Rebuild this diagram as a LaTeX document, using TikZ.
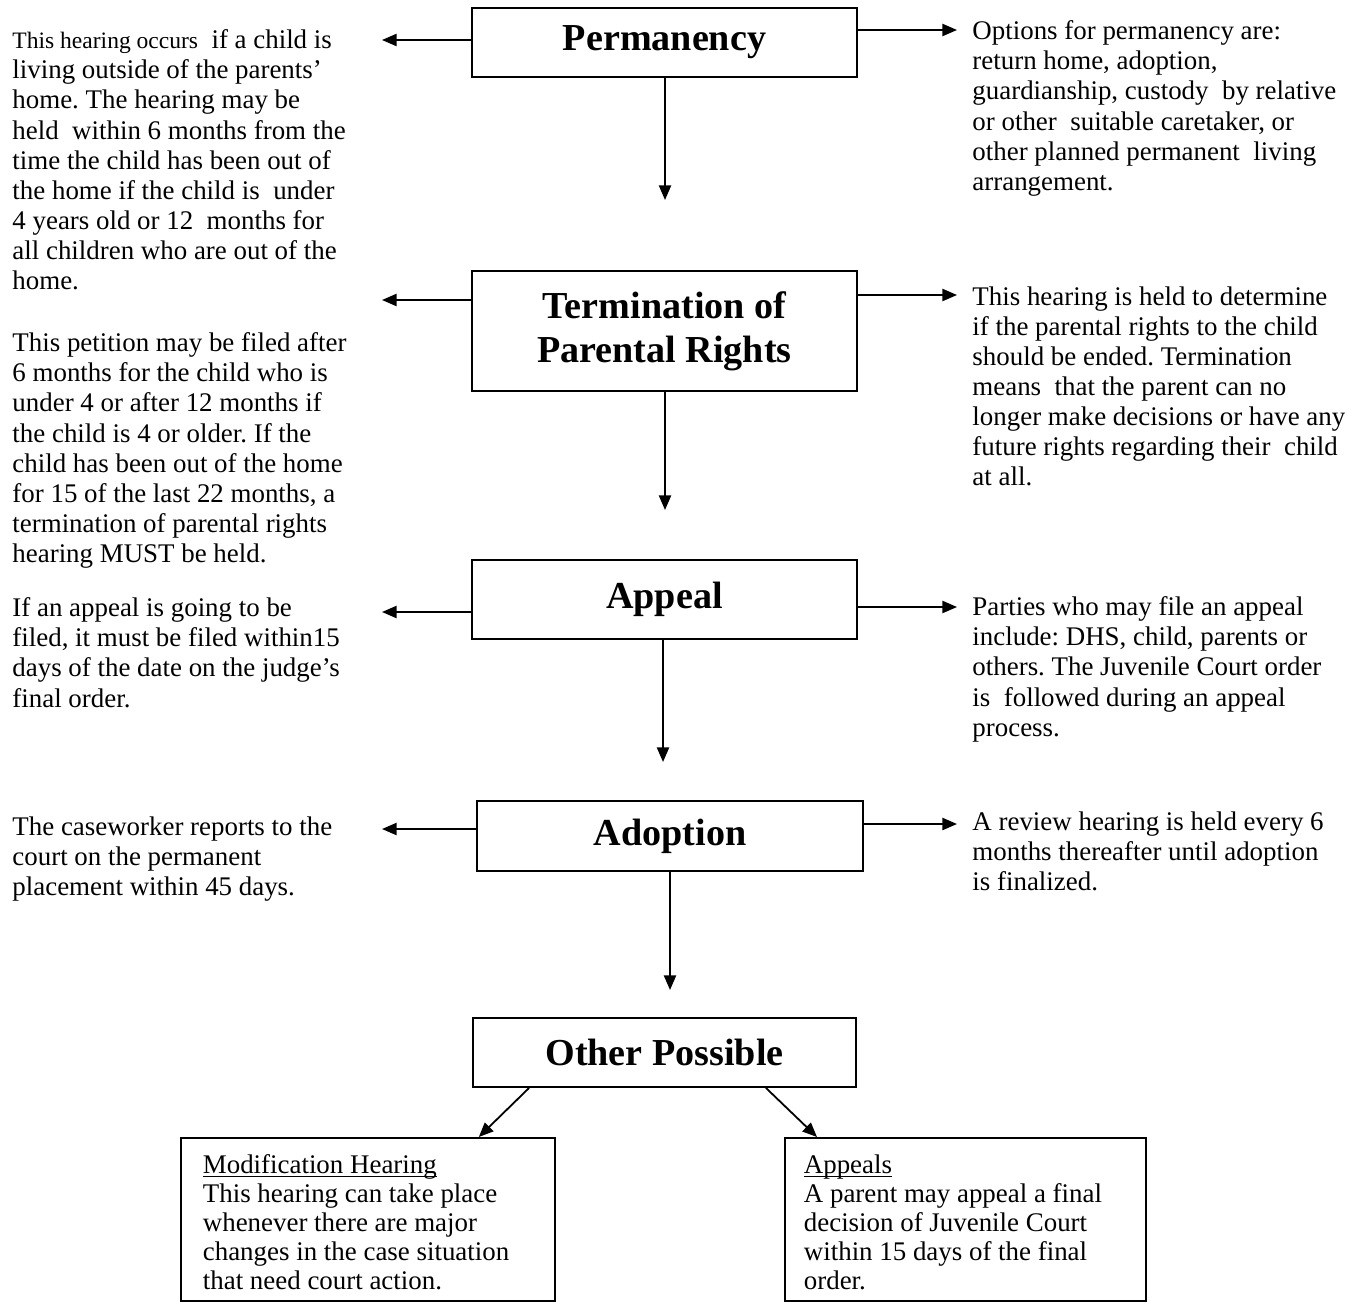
\documentclass[tikz,border=0pt]{standalone}
\usepackage{fontspec}
\setmainfont{Liberation Serif}
\usetikzlibrary{arrows.meta,positioning}
\frenchspacing
\hyphenpenalty=10000
\newcommand{\uword}[1]{\setbox0\hbox{#1}\rlap{\rule[-1.8pt]{\wd0}{0.6pt}}\box0}

\begin{document}
\begin{tikzpicture}[x=0.446pt,y=-0.446pt,
    box/.style={draw, line width=0.8pt, inner sep=0pt, align=center,
      font=\fontsize{17}{19.5}\selectfont\bfseries},
    note/.style={anchor=north west, inner sep=0pt, align=left,
      font=\fontsize{12}{13.4}\selectfont},
    subbox/.style={draw, line width=0.8pt, anchor=north west, align=flush left,
      inner ysep=0pt, minimum height=163*0.446pt,
      font=\fontsize{12}{13}\selectfont},
    arr/.style={line width=0.8pt, -{Triangle[length=6.5pt,width=5.4pt]}}]
  \useasboundingbox (0,0) rectangle (1358,1304);

  % main boxes
  \node[box, minimum width=385*0.446pt, minimum height=69*0.446pt] (perm) at (664.5,42.5) {Permanency};
  \node[box, minimum width=385*0.446pt, minimum height=120*0.446pt] (term) at (664.5,331) {Termination of\\Parental Rights};
  \node[box, minimum width=385*0.446pt, minimum height=79*0.446pt] (appeal) at (664.5,599.5) {Appeal};
  \node[box, minimum width=386*0.446pt, minimum height=70*0.446pt] (adopt) at (670,836) {Adoption};
  \node[box, minimum width=383*0.446pt, minimum height=69*0.446pt] (other) at (664.5,1052.5) {Other Possible};

  % notes on the left
  \node[note] (permL) at (12,29.5) {{\fontsize{10.5}{13.4}\selectfont This hearing occurs}\ \ if a child is\\
    living outside of the parents’\\
    home. The hearing may be\\
    held\ \ within 6 months from the\\
    time the child has been out of\\
    the home if the child is\ \ under\\
    4 years old or 12\ \ months for\\
    all children who are out of the\\
    home.};
  \node[note] (termL) at (12,332.5) {This petition may be filed after\\
    6 months for the child who is\\
    under 4 or after 12 months if\\
    the child is 4 or older. If the\\
    child has been out of the home\\
    for 15 of the last 22 months, a\\
    termination of parental rights\\
    hearing MUST be held.};
  \node[note] (appealL) at (12,597.5) {If an appeal is going to be\\
    filed, it must be filed within15\\
    days of the date on the judge’s\\
    final order.};
  \node[note] (adoptL) at (12,816.5) {The caseworker reports to the\\
    court on the permanent\\
    placement within 45 days.};

  % notes on the right
  \node[note] (permR) at (972,20.5) {Options for permanency are:\\
    return home, adoption,\\
    guardianship, custody\ \ by relative\\
    or other\ \ suitable caretaker, or\\
    other planned permanent\ \ living\\
    arrangement.};
  \node[note] (termR) at (972,286.5) {This hearing is held to determine\\
    if the parental rights to the child\\
    should be ended. Termination\\
    means\ \ that the parent can no\\
    longer make decisions or have any\\
    future rights regarding their\ \ child\\
    at all.};
  \node[note] (appealR) at (972,596.5) {Parties who may file an appeal\\
    include: DHS, child, parents or\\
    others. The Juvenile Court order\\
    is\ \ followed during an appeal\\
    process.};
  \node[note] (adoptR) at (972,811.5) {A review hearing is held every 6\\
    months thereafter until adoption\\
    is finalized.};

  % bottom boxes
  \node[subbox, inner xsep=22*0.446pt, text width=330*0.446pt] (modif) at (180,1137) {\rule{0pt}{11pt}\uword{Modification Hearing}\\
    This hearing can take place\\
    whenever there are major\\
    changes in the case situation\\
    that need court action.};
  \node[subbox, inner xsep=19*0.446pt, text width=323*0.446pt] (appeals) at (784,1137) {\rule{0pt}{11pt}\uword{Appeals}\\
    A parent may appeal a final\\
    decision of Juvenile Court\\
    within 15 days of the final\\
    order.};

  % arrow ends
  \coordinate (permLe) at (382,40);
  \coordinate (permRe) at (957,30);
  \coordinate (permD) at (665,200);
  \coordinate (termLe) at (382,300);
  \coordinate (termRe) at (957,295);
  \coordinate (termD) at (665,510);
  \coordinate (appealLe) at (382,612);
  \coordinate (appealRe) at (957,607);
  \coordinate (appealD) at (663,762);
  \coordinate (adoptLe) at (382,829);
  \coordinate (adoptRe) at (957,824);
  \coordinate (adoptD) at (670,990);

  \draw[arr] (perm.west |- permLe) -- (permLe);
  \draw[arr] (perm.east |- permRe) -- (permRe);
  \draw[arr] (perm.south -| permD) -- (permD);
  \draw[arr] (term.west |- termLe) -- (termLe);
  \draw[arr] (term.east |- termRe) -- (termRe);
  \draw[arr] (term.south -| termD) -- (termD);
  \draw[arr] (appeal.west |- appealLe) -- (appealLe);
  \draw[arr] (appeal.east |- appealRe) -- (appealRe);
  \draw[arr] (appeal.south -| appealD) -- (appealD);
  \draw[arr] (adopt.west |- adoptLe) -- (adoptLe);
  \draw[arr] (adopt.east |- adoptRe) -- (adoptRe);
  \draw[arr] (adopt.south -| adoptD) -- (adoptD);
  \draw[arr] ([xshift=57*0.446pt]other.south west) -- ([xshift=-77*0.446pt]modif.north east);
  \draw[arr] ([xshift=-91*0.446pt]other.south east) -- ([xshift=33*0.446pt]appeals.north west);
\end{tikzpicture}
\end{document}
